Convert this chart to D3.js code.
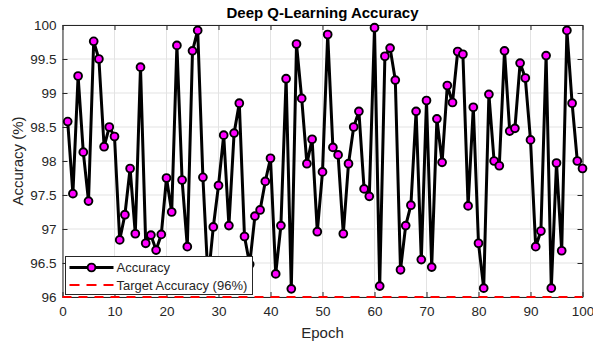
<!DOCTYPE html>
<html>
<head>
<meta charset="utf-8">
<script src="https://cdnjs.cloudflare.com/ajax/libs/d3/7.9.0/d3.min.js"></script>
<style>
  body { margin: 0; background: #fff; }
  svg { display: block; font-family: "Liberation Sans", Arial, Helvetica, sans-serif; }
</style>
</head>
<body>
<div id="chart"></div>
<script>
// accuracy per epoch (epoch = index + 1)
const accuracy = [
  98.58, 97.52, 99.25, 98.13, 97.41, 99.76, 99.50, 98.21, 98.50, 98.36,
  96.84, 97.21, 97.89, 96.93, 99.38, 96.79, 96.91, 96.69, 96.92, 97.75,
  97.25, 99.70, 97.72, 96.74, 99.62, 99.92, 97.76, 96.25, 97.03, 97.64,
  98.38, 97.05, 98.41, 98.85, 96.89, 96.48, 97.19, 97.28, 97.70, 98.04,
  96.34, 97.05, 99.21, 96.12, 99.72, 98.92, 97.96, 98.32, 96.96, 97.84,
  99.86, 98.20, 98.09, 96.93, 97.96, 98.50, 98.73, 97.59, 97.48, 99.96,
  96.16, 99.54, 99.66, 99.19, 96.40, 97.05, 97.35, 98.73, 96.55, 98.89,
  96.44, 98.62, 97.98, 99.11, 98.86, 99.61, 99.57, 97.34, 98.79, 96.79,
  96.13, 98.98, 98.00, 97.93, 99.62, 98.44, 98.48, 99.44, 99.22, 98.31,
  96.74, 96.97, 99.55, 96.13, 97.97, 96.68, 99.92, 98.85, 98.00, 97.89
];
const target = 96;
const xTicks = [0, 10, 20, 30, 40, 50, 60, 70, 80, 90, 100];
const yTicks = [96, 96.5, 97, 97.5, 98, 98.5, 99, 99.5, 100];
const legendLabels = ["Accuracy", "Target Accuracy (96%)"];

const W = 593, H = 347;
const margin = {top: 25, right: 10.5, bottom: 50, left: 62.5};
const axisColor = "#262626";

const svg = d3.select("#chart").append("svg")
  .attr("width", W).attr("height", H);

const x = d3.scaleLinear().domain([0, 100]).range([margin.left, W - margin.right]);
const y = d3.scaleLinear().domain([96, 100]).range([H - margin.bottom, margin.top]);

const data = accuracy.map((v, i) => ({epoch: i + 1, acc: v}));

// grid
svg.append("g").selectAll("line.gx").data(xTicks).join("line")
  .attr("x1", d => x(d)).attr("x2", d => x(d))
  .attr("y1", y(96)).attr("y2", y(100))
  .attr("stroke", "#e3e3e3").attr("stroke-width", 1);
svg.append("g").selectAll("line.gy").data(yTicks).join("line")
  .attr("x1", x(0)).attr("x2", x(100))
  .attr("y1", d => y(d)).attr("y2", d => y(d))
  .attr("stroke", "#e3e3e3").attr("stroke-width", 1);

// axes (MATLAB style: inward ticks, box on)
const xAxis = svg.append("g")
  .attr("transform", `translate(0,${y(96)})`)
  .call(d3.axisBottom(x).tickValues(xTicks).tickSizeInner(-5).tickSizeOuter(0).tickPadding(9));
const yAxis = svg.append("g")
  .attr("transform", `translate(${x(0)},0)`)
  .call(d3.axisLeft(y).tickValues(yTicks).tickFormat(d3.format("~g")).tickSizeInner(-5).tickSizeOuter(0).tickPadding(6));
const xTop = svg.append("g")
  .attr("transform", `translate(0,${y(100)})`)
  .call(d3.axisTop(x).tickValues(xTicks).tickSizeInner(-5).tickSizeOuter(0).tickFormat(""));
const yRight = svg.append("g")
  .attr("transform", `translate(${x(100)},0)`)
  .call(d3.axisRight(y).tickValues(yTicks).tickSizeInner(-5).tickSizeOuter(0).tickFormat(""));

[xAxis, yAxis, xTop, yRight].forEach(g => {
  g.select(".domain").attr("stroke", axisColor).attr("stroke-width", 1);
  g.selectAll(".tick line").attr("stroke", axisColor);
  g.selectAll(".tick text").attr("fill", axisColor).style("font-size", "13.5px")
    .style("font-family", "'Liberation Sans', Arial, sans-serif");
});

// target line
svg.append("line")
  .attr("x1", x(0)).attr("x2", x(100))
  .attr("y1", y(target)).attr("y2", y(target))
  .attr("stroke", "#ff0000").attr("stroke-width", 2.2)
  .attr("stroke-dasharray", "9,7");

// accuracy line
const line = d3.line().x(d => x(d.epoch)).y(d => y(d.acc));
svg.append("path").datum(data)
  .attr("d", line)
  .attr("fill", "none")
  .attr("stroke", "#000")
  .attr("stroke-width", 3)
  .attr("stroke-linejoin", "round");

svg.append("g").selectAll("circle").data(data).join("circle")
  .attr("cx", d => x(d.epoch)).attr("cy", d => y(d.acc))
  .attr("r", 3.9)
  .attr("fill", "#ff00ff")
  .attr("stroke", "#000").attr("stroke-width", 1.9);

// title and labels
svg.append("text")
  .attr("x", (x(0) + x(100)) / 2).attr("y", 17.5)
  .attr("text-anchor", "middle")
  .style("font-size", "15px").style("font-weight", "bold")
  .attr("fill", "#000")
  .text("Deep Q-Learning Accuracy");

svg.append("text")
  .attr("x", (x(0) + x(100)) / 2).attr("y", 338)
  .attr("text-anchor", "middle")
  .style("font-size", "15px")
  .attr("fill", axisColor)
  .text("Epoch");

svg.append("text")
  .attr("transform", `translate(22.5,${(y(96) + y(100)) / 2}) rotate(-90)`)
  .attr("text-anchor", "middle")
  .style("font-size", "15px")
  .attr("fill", axisColor)
  .text("Accuracy (%)");

// legend
const lg = svg.append("g").attr("transform", "translate(65.5,256.5)");
lg.append("rect")
  .attr("width", 187).attr("height", 38)
  .attr("fill", "#fff").attr("stroke", axisColor).attr("stroke-width", 1);
lg.append("line")
  .attr("x1", 4).attr("x2", 48).attr("y1", 11).attr("y2", 11)
  .attr("stroke", "#000").attr("stroke-width", 3);
lg.append("circle")
  .attr("cx", 26).attr("cy", 11).attr("r", 3.9)
  .attr("fill", "#ff00ff").attr("stroke", "#000").attr("stroke-width", 1.9);
lg.append("line")
  .attr("x1", 4).attr("x2", 48).attr("y1", 28.5).attr("y2", 28.5)
  .attr("stroke", "#ff0000").attr("stroke-width", 2.2)
  .attr("stroke-dasharray", "10,7");
lg.selectAll("text.lab").data(legendLabels).join("text")
  .attr("x", 51).attr("y", (d, i) => 15.5 + i * 17.5)
  .style("font-size", "13px")
  .attr("fill", axisColor)
  .text(d => d);
</script>
</body>
</html>
